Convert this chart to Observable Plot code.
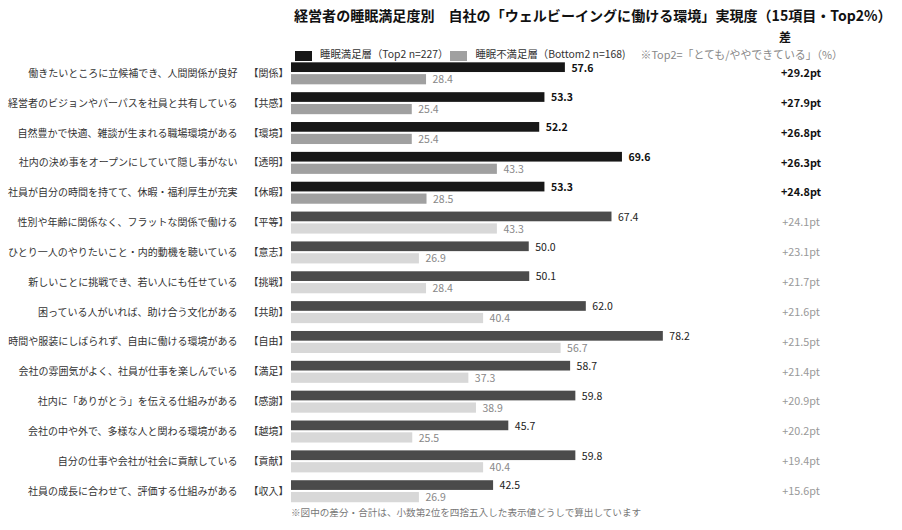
<!DOCTYPE html>
<html>
<head>
<meta charset="utf-8">
<script src="https://cdn.jsdelivr.net/npm/d3@7"></script>
<script src="https://cdn.jsdelivr.net/npm/@observablehq/plot@0.6"></script>
<style>
  html, body { margin: 0; padding: 0; background: #fff; }
  body { font-family: "Noto Sans CJK JP", "Noto Sans", sans-serif; }
  #wrap { position: relative; width: 902px; height: 530px; overflow: hidden; }
  #title { position: absolute; left: 294px; top: 4px; font-size: 14.05px; font-weight: 700; color: #111; line-height: 22px; white-space: nowrap; }
  #diffhead { position: absolute; left: 779px; top: 31px; font-size: 12px; font-weight: 700; color: #111; line-height: 12px; }
  #legend { position: absolute; left: 295px; top: 48px; width: 600px; height: 12px; display: flex; flex-wrap: nowrap; align-items: center; font-size: 10.4px; color: #333; white-space: nowrap; z-index: 2; line-height: 12px; }
  #legend span { flex-shrink: 0; white-space: nowrap; }
  #legend .sw { display: inline-block; width: 17px; height: 10px; margin-right: 8px; position: relative; top: 2px; }
  #legend .note { color: #888; margin-left: 15px; font-size: 10.9px; }
  #chart { position: absolute; left: 0; top: 50px; z-index: 1; }
  #footer { position: absolute; left: 291px; top: 505px; font-size: 9.6px; color: #777; line-height: 14px; white-space: nowrap; }
</style>
</head>
<body>
<div id="wrap">
  <div id="title"></div>
  <div id="diffhead"></div>
  <div id="legend"></div>
  <div id="chart"></div>
  <div id="footer"></div>
</div>
<script>
// ---- data ----
const titleText = "経営者の睡眠満足度別　自社の「ウェルビーイングに働ける環境」実現度（15項目・Top2%）";
const seriesNames = ["睡眠満足層（Top2 n=227）", "睡眠不満足層（Bottom2 n=168)"];
const noteText = "※Top2=「とても/ややできている」（%）";
const diffHeader = "差";
const footerText = "※図中の差分・合計は、小数第2位を四捨五入した表示値どうしで算出しています";

const labels = [
  "働きたいところに立候補でき、人間関係が良好",
  "経営者のビジョンやパーパスを社員と共有している",
  "自然豊かで快適、雑談が生まれる職場環境がある",
  "社内の決め事をオープンにしていて隠し事がない",
  "社員が自分の時間を持てて、休暇・福利厚生が充実",
  "性別や年齢に関係なく、フラットな関係で働ける",
  "ひとり一人のやりたいこと・内的動機を聴いている",
  "新しいことに挑戦でき、若い人にも任せている",
  "困っている人がいれば、助け合う文化がある",
  "時間や服装にしばられず、自由に働ける環境がある",
  "会社の雰囲気がよく、社員が仕事を楽しんでいる",
  "社内に「ありがとう」を伝える仕組みがある",
  "会社の中や外で、多様な人と関わる環境がある",
  "自分の仕事や会社が社会に貢献している",
  "社員の成長に合わせて、評価する仕組みがある"
];
const tags = ["【関係】","【共感】","【環境】","【透明】","【休暇】","【平等】","【意志】","【挑戦】","【共助】","【自由】","【満足】","【感謝】","【越境】","【貢献】","【収入】"];
const satisfied   = [57.6, 53.3, 52.2, 69.6, 53.3, 67.4, 50.0, 50.1, 62.0, 78.2, 58.7, 59.8, 45.7, 59.8, 42.5];
const unsatisfied = [28.4, 25.4, 25.4, 43.3, 28.5, 43.3, 26.9, 28.4, 40.4, 56.7, 37.3, 38.9, 25.5, 40.4, 26.9];
const diffs       = [29.2, 27.9, 26.8, 26.3, 24.8, 24.1, 23.1, 21.7, 21.6, 21.5, 21.4, 20.9, 20.2, 19.4, 15.6];
const highlightCount = 5;

// ---- style ----
const C = { topHi: "#171717", botHi: "#a0a0a0", topLo: "#4b4b4b", botLo: "#d8d8d8" };
const font = '"Noto Sans CJK JP", "Noto Sans", sans-serif';

// ---- header / legend / footer ----
document.getElementById("title").textContent = titleText;
document.getElementById("diffhead").textContent = diffHeader;
document.getElementById("footer").textContent = footerText;
const leg = document.getElementById("legend");
leg.innerHTML =
  `<span class="sw" style="background:${C.topHi}"></span><span>${seriesNames[0]}</span>` +
  `<span class="sw" style="background:${C.botHi};margin-left:2px"></span><span>${seriesNames[1]}</span>` +
  `<span class="note">${noteText}</span>`;

// ---- table ----
const rows = labels.map((label, i) => ({
  label, tag: tags[i], top: satisfied[i], bottom: unsatisfied[i], diff: diffs[i], hl: i < highlightCount
}));
const hi = d => d.hl, lo = d => !d.hl;

const rowH = 29.85;
const H = 460, mt = 8.2, mb = H - mt - rowH * labels.length;
const half = rowH / 2;

const chart = Plot.plot({
  width: 902,
  height: H,
  marginLeft: 291,
  marginRight: 135.5,
  marginTop: mt,
  marginBottom: mb,
  x: { domain: [0, 100], axis: null },
  y: { domain: labels, padding: 0, round: false, axis: null },
  style: { fontFamily: font, background: "transparent", overflow: "visible" },
  marks: [
    Plot.barX(rows, { filter: hi, x: "top", y: "label", fill: C.topHi, insetTop: half - 10.8, insetBottom: half + 1.1 }),
    Plot.barX(rows, { filter: hi, x: "bottom", y: "label", fill: C.botHi, insetTop: half + 1.0, insetBottom: half - 11.2 }),
    Plot.barX(rows, { filter: lo, x: "top", y: "label", fill: C.topLo, insetTop: half - 10.8, insetBottom: half + 1.1 }),
    Plot.barX(rows, { filter: lo, x: "bottom", y: "label", fill: C.botLo, insetTop: half + 1.0, insetBottom: half - 11.2 }),

    Plot.text(rows, { y: "label", text: "label", frameAnchor: "left", dx: -54, textAnchor: "end", fontSize: 10, fill: "#333" }),
    Plot.text(rows, { y: "label", text: "tag", frameAnchor: "left", dx: -3, textAnchor: "end", fontSize: 10, fill: "#333" }),

    Plot.text(rows, { filter: hi, x: "top", y: "label", text: d => d.top.toFixed(1), dx: 6, dy: -5.5, textAnchor: "start", fontSize: 10.5, fontWeight: 700, fill: "#111" }),
    Plot.text(rows, { filter: lo, x: "top", y: "label", text: d => d.top.toFixed(1), dx: 6, dy: -5.5, textAnchor: "start", fontSize: 10.5, fill: "#222" }),
    Plot.text(rows, { x: "bottom", y: "label", text: d => d.bottom.toFixed(1), dx: 6, dy: 6.3, textAnchor: "start", fontSize: 10.5, fill: "#888" }),

    Plot.text(rows, { filter: hi, y: "label", text: d => "+" + d.diff.toFixed(1) + "pt", frameAnchor: "right", dx: 34, textAnchor: "middle", fontSize: 10.8, fontWeight: 700, fill: "#111" }),
    Plot.text(rows, { filter: lo, y: "label", text: d => "+" + d.diff.toFixed(1) + "pt", frameAnchor: "right", dx: 34, textAnchor: "middle", fontSize: 10.8, fill: "#999" })
  ]
});
document.getElementById("chart").appendChild(chart);
</script>
</body>
</html>
